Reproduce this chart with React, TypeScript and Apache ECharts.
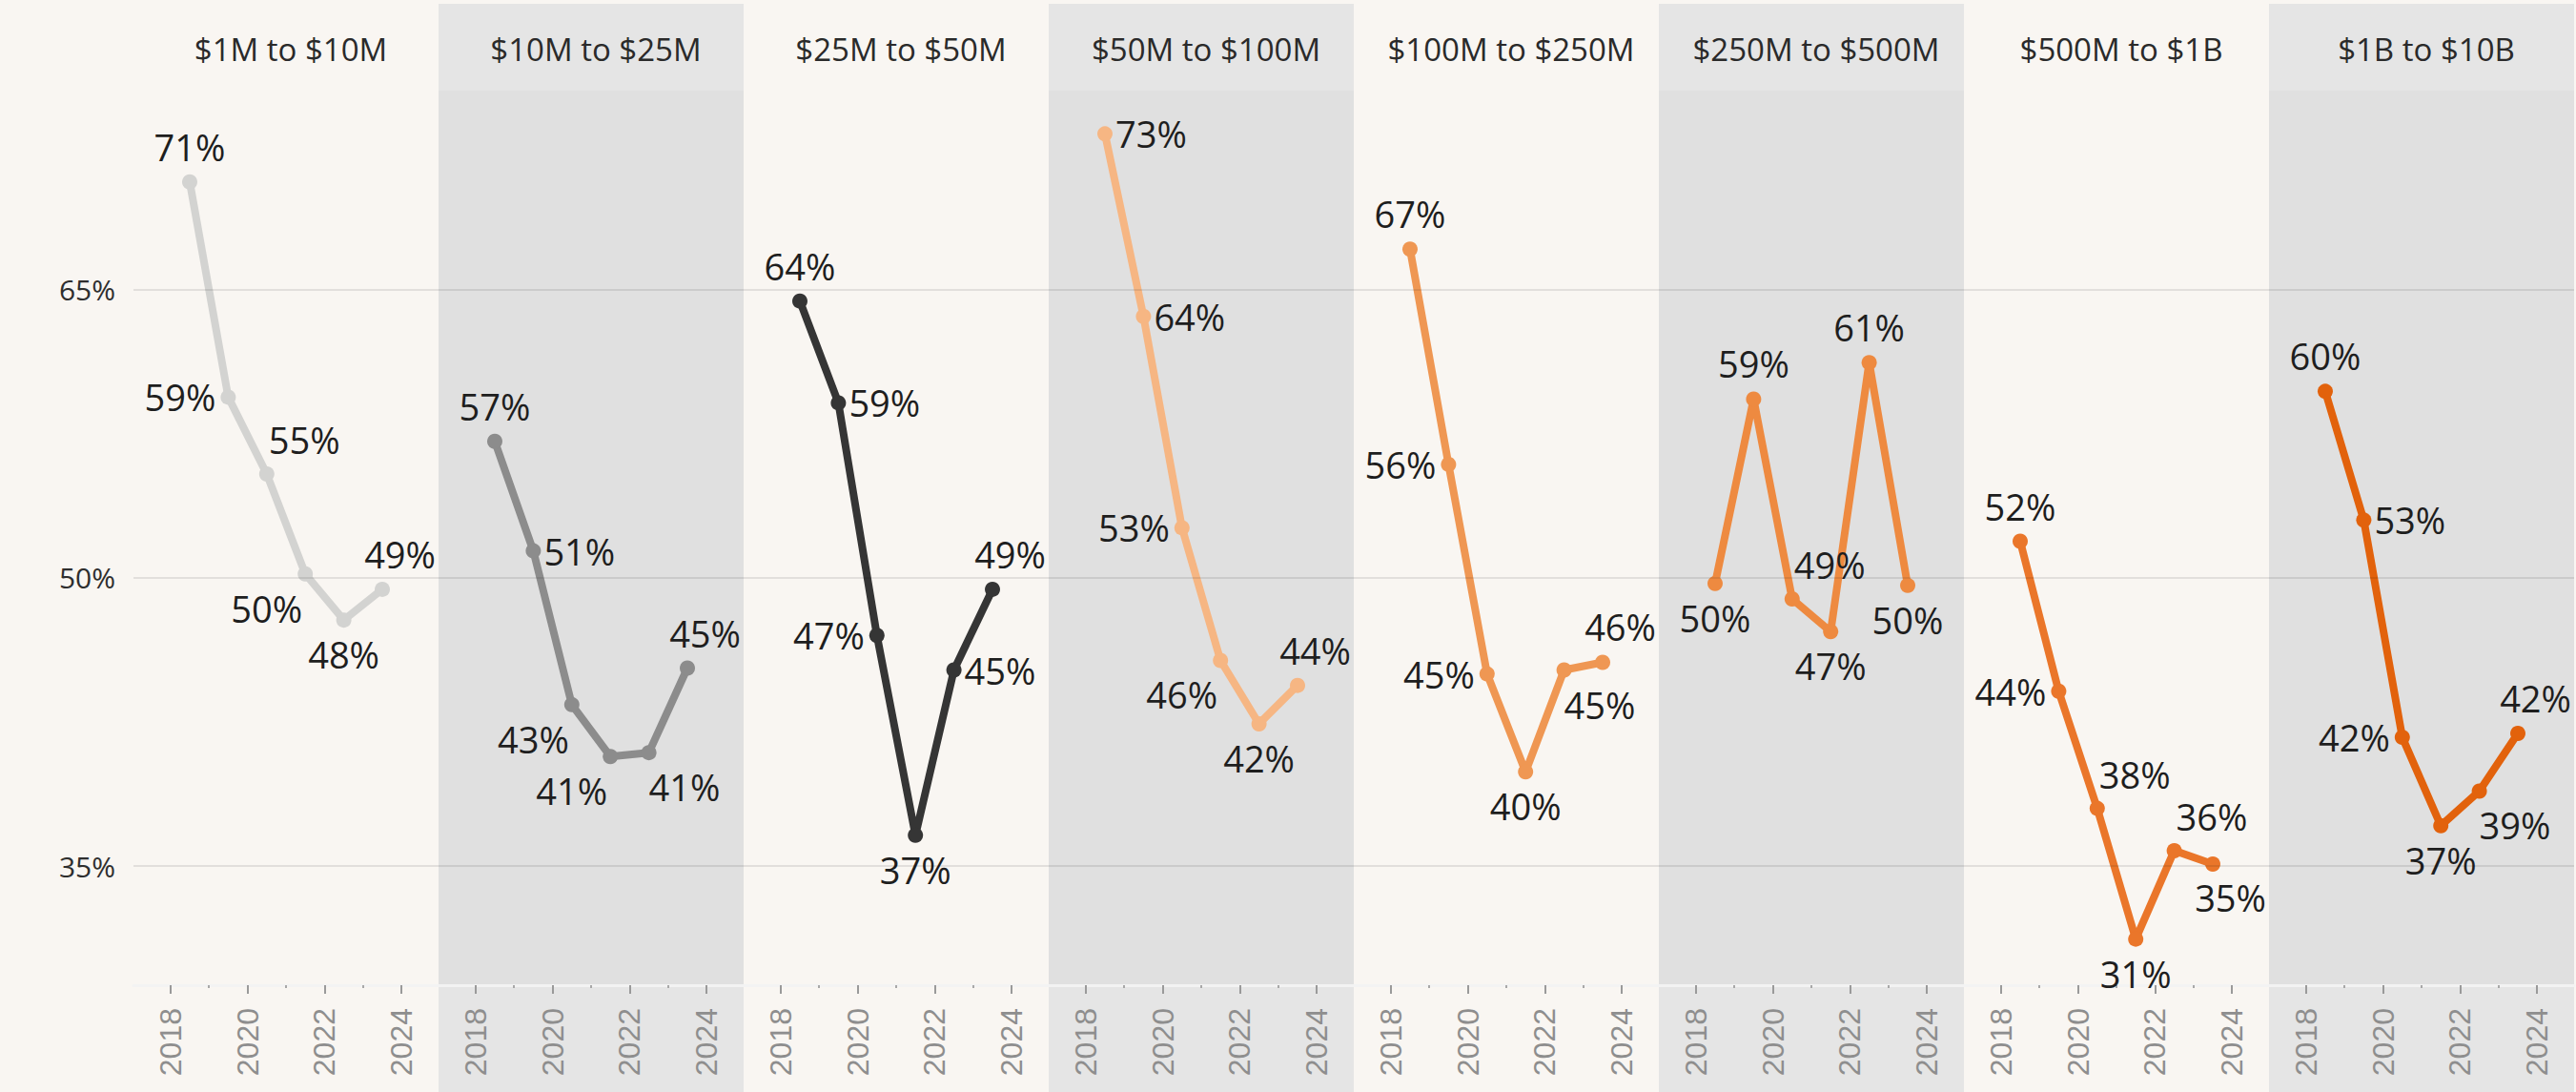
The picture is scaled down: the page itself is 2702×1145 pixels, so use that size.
import React, { useEffect, useRef } from 'react';
import * as echarts from 'echarts';

// ---------- data ----------
const panelTitles = [
  '$1M to $10M',
  '$10M to $25M',
  '$25M to $50M',
  '$50M to $100M',
  '$100M to $250M',
  '$250M to $500M',
  '$500M to $1B',
  '$1B to $10B',
];
const years = [2018, 2019, 2020, 2021, 2022, 2023];
const yearTickLabels = [2018, 2020, 2022, 2024];
const minorYearTicks = [2019, 2021, 2023];
const yTickValues = [35, 50, 65];

const rate1to10M = [70.6, 59.4, 55.4, 50.2, 47.8, 49.4];
const rate10to25M = [57.1, 51.4, 43.4, 40.7, 40.9, 45.3];
const rate25to50M = [64.4, 59.1, 47.0, 36.6, 45.2, 49.4];
const rate50to100M = [73.1, 63.6, 52.6, 45.7, 42.4, 44.4];
const rate100to250M = [67.1, 55.9, 45.0, 39.9, 45.2, 45.6];
const rate250to500M = [49.7, 59.3, 48.9, 47.2, 61.2, 49.6];
const rate500Mto1B = [51.9, 44.1, 38.0, 31.2, 35.8, 35.1];
const rate1to10B = [59.7, 53.0, 41.7, 37.1, 38.9, 41.9];

const seriesValues = [
  rate1to10M,
  rate10to25M,
  rate25to50M,
  rate50to100M,
  rate100to250M,
  rate250to500M,
  rate500Mto1B,
  rate1to10B,
];

// ---------- styling ----------
const lineColors = [
  '#d3d3d1',
  '#8c8c8c',
  '#353535',
  '#f6b683',
  '#ef9753',
  '#ee8a40',
  '#ea762a',
  '#e2620c',
];

// label placement codes per point (styling only)
const labelPlacement = [
  ['T', 'L', 'TR', 'BL', 'B', 'Tr'],
  ['T', 'R', 'BL', 'BL', 'BR', 'Tr'],
  ['T', 'R', 'L', 'B', 'R', 'Tr'],
  ['R', 'R', 'L', 'BL', 'B', 'Tr'],
  ['T', 'L', 'L', 'B', 'BR', 'Tr'],
  ['B', 'T', 'TR', 'B', 'T', 'B'],
  ['T', 'L', 'TR', 'B', 'TR', 'Br'],
  ['T', 'R', 'L', 'B', 'BR', 'Tr'],
];

const placeMap: Record<string, { dx: number; dy: number; align: string }> = {
  T: { dx: 0, dy: -37, align: 'center' },
  B: { dx: 0, dy: 36, align: 'center' },
  L: { dx: -13, dy: 0, align: 'right' },
  R: { dx: 11, dy: 0, align: 'left' },
  TR: { dx: 2, dy: -36, align: 'left' },
  BL: { dx: -3, dy: 36, align: 'right' },
  BR: { dx: 0, dy: 36, align: 'left' },
  Tr: { dx: 56, dy: -37, align: 'right' },
  Br: { dx: 56, dy: 35, align: 'right' },
};

const W = 2702;
const H = 1145;
const PLOT_LEFT = 140;
const PANEL_W = 320;
const PLOT_TOP = 95;
const PLOT_H = 938;
const SYM = 16;
const BG = '#f9f6f2';
const GRAY_BODY = '#e0e0e0';
const GRAY_SIDE = '#e5e5e5';
const LABEL_FONT = "'Open Sans', 'Noto Sans', sans-serif";

if (typeof document !== 'undefined') {
  document.body.style.margin = '0';
  document.body.style.overflow = 'hidden';
}

function buildOption() {
  const n = panelTitles.length;
  const grids: any[] = [];
  const xAxes: any[] = [];
  const yAxes: any[] = [];
  const series: any[] = [];
  const titles: any[] = [];
  const graphics: any[] = [];

  for (let i = 0; i < n; i++) {
    const left = PLOT_LEFT + PANEL_W * i;
    const shaded = i % 2 === 1;
    grids.push({
      left,
      top: PLOT_TOP,
      width: PANEL_W,
      height: PLOT_H,
      show: shaded,
      backgroundColor: shaded ? GRAY_BODY : 'transparent',
      borderWidth: 0,
      outerBoundsMode: 'none',
    });
    if (shaded) {
      graphics.push({
        type: 'rect',
        silent: true,
        z: -10,
        shape: { x: left, y: 4, width: PANEL_W, height: H - 4 },
        style: { fill: GRAY_SIDE },
      });
    }
    titles.push({
      text: panelTitles[i],
      left: left + PANEL_W / 2,
      top: 30,
      textAlign: 'center',
      textStyle: {
        fontFamily: LABEL_FONT,
        fontSize: 33,
        fontWeight: 'normal',
        color: '#2a2a2a',
      },
    });
    // main x axis
    xAxes.push({
      type: 'value',
      gridIndex: i,
      position: 'bottom',
      min: 2017.04,
      max: 2024.96,
      axisLine: { show: true, lineStyle: { color: '#f3f3f3', width: 3 } },
      axisTick: {
        show: true,
        customValues: yearTickLabels,
        length: 9,
        lineStyle: { color: '#9a9a9a', width: 2 },
      },
      axisLabel: {
        show: true,
        customValues: yearTickLabels,
        rotate: 90,
        margin: 24,
        fontFamily: "'Liberation Sans', Arial, sans-serif",
        fontSize: 32,
        color: '#8e8e8e',
        formatter: (v: number) => String(Math.round(v)),
      },
      splitLine: { show: false },
    });
    // minor tick axis
    xAxes.push({
      type: 'value',
      gridIndex: i,
      position: 'bottom',
      min: 2017.04,
      max: 2024.96,
      axisLine: { show: false },
      axisTick: {
        show: true,
        customValues: minorYearTicks,
        length: 3,
        lineStyle: { color: '#a8a8a8', width: 2 },
      },
      axisLabel: { show: false },
      splitLine: { show: false },
    });
    yAxes.push({
      type: 'value',
      gridIndex: i,
      min: 28.8,
      max: 75.35,
      axisLine: { show: false },
      axisTick: { show: false },
      splitLine: { show: false },
      axisLabel:
        i === 0
          ? {
              show: true,
              customValues: yTickValues,
              margin: 19,
              fontFamily: LABEL_FONT,
              fontSize: 30,
              color: '#2e2e2e',
              formatter: '{value}%',
            }
          : { show: false },
    });

    const color = lineColors[i];
    const data = seriesValues[i].map((v, j) => {
      const p = placeMap[labelPlacement[i][j]];
      return {
        value: [years[j] + 0.5, v],
        label: {
          position: [SYM / 2 + p.dx, SYM / 2 + p.dy],
          align: p.align,
          verticalAlign: 'middle',
        },
      };
    });
    series.push({
      type: 'line',
      name: panelTitles[i],
      xAxisIndex: 2 * i,
      yAxisIndex: i,
      data,
      symbol: 'circle',
      symbolSize: SYM,
      showSymbol: true,
      lineStyle: { color, width: 8 },
      itemStyle: { color },
      label: {
        show: true,
        formatter: (p: any) => Math.round(p.value[1]) + '%',
        fontFamily: LABEL_FONT,
        fontSize: 38,
        color: '#1e1e1e',
      },
      emphasis: { disabled: true },
      markLine: {
        silent: true,
        symbol: 'none',
        label: { show: false },
        lineStyle: { color: 'rgba(0,0,0,0.09)', width: 2, type: 'solid' },
        emphasis: { disabled: true },
        data: yTickValues.map((v) => ({ yAxis: v })),
      },
    });
  }

  return {
    animation: false,
    backgroundColor: BG,
    title: titles,
    grid: grids,
    xAxis: xAxes,
    yAxis: yAxes,
    series,
    graphic: graphics,
    tooltip: { show: false },
  };
}

export default function App() {
  const ref = useRef<HTMLDivElement>(null);
  useEffect(() => {
    document.body.style.margin = '0';
    if (!ref.current) return;
    const chart = echarts.init(ref.current, undefined, { renderer: 'svg', width: W, height: H });
    chart.setOption(buildOption() as any);
    return () => chart.dispose();
  }, []);
  return (
    <div
      ref={ref}
      style={{ position: 'fixed', left: 0, top: 0, width: W, height: H }}
    />
  );
}
